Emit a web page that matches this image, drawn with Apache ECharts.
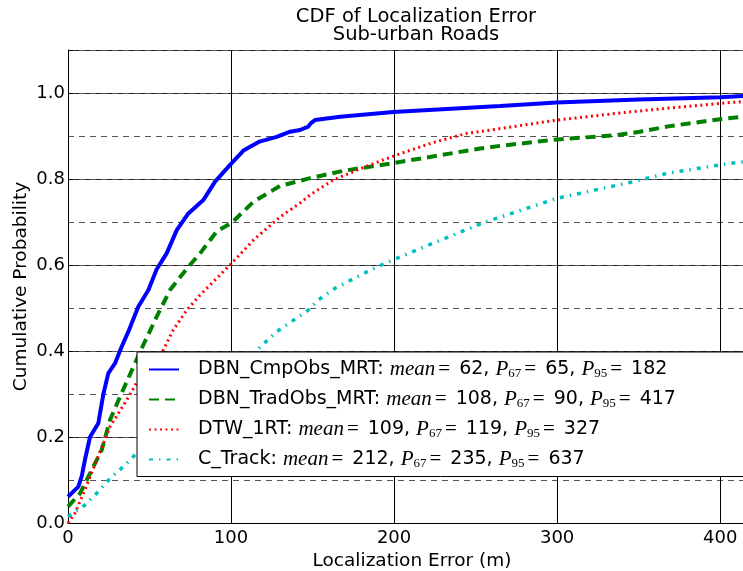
<!DOCTYPE html>
<html>
<head>
<meta charset="utf-8">
<script src="https://cdn.jsdelivr.net/npm/echarts@6/dist/echarts.min.js"></script>
<style>
html,body{margin:0;padding:0;background:#fff;}
#chart{width:743px;height:571px;}
</style>
</head>
<body>
<div id="chart"></div>
<script>
// ---- data ----
const seriesNames = ['DBN_CmpObs_MRT', 'DBN_TradObs_MRT', 'DTW_1RT', 'C_Track'];
const statMean = [62, 108, 109, 212];
const statP67 = [65, 90, 119, 235];
const statP95 = [182, 417, 327, 637];

const cmpX = [0, 4.3, 6.3, 8.5, 10.4, 13.5, 18.6, 21.7, 24.7, 28.8, 32.9, 37, 43.1, 49.3, 54.4, 60.5, 66.7, 73.8, 83, 90.2, 99.4, 107.6, 117.5, 128, 136.2, 142.3, 147.4, 149, 151.5, 166.9, 199.6, 265, 299.8, 350, 400, 414, 421];
const cmpY = [0.061, 0.077, 0.084, 0.11, 0.147, 0.2, 0.232, 0.30, 0.348, 0.371, 0.41, 0.445, 0.503, 0.542, 0.59, 0.627, 0.681, 0.72, 0.751, 0.794, 0.833, 0.866, 0.887, 0.898, 0.91, 0.914, 0.922, 0.93, 0.937, 0.945, 0.956, 0.97, 0.978, 0.985, 0.99, 0.993, 0.994];

const tradX = [0, 7.4, 11.5, 20.7, 25.8, 32.9, 44.2, 54.4, 62.6, 73.8, 81, 91.2, 100.4, 113.7, 130.1, 148.5, 168.9, 199.6, 252.8, 265, 299.8, 336.6, 350.7, 369, 400, 414, 421];
const tradY = [0.038, 0.069, 0.1, 0.17, 0.24, 0.302, 0.398, 0.48, 0.542, 0.596, 0.627, 0.678, 0.698, 0.747, 0.784, 0.802, 0.819, 0.837, 0.871, 0.877, 0.892, 0.902, 0.91, 0.923, 0.939, 0.945, 0.948];

const dtwX = [0, 4.3, 10.4, 17.6, 25.8, 36, 44.2, 56.4, 64.6, 72.8, 81, 100.4, 113.7, 130.1, 142.3, 148.5, 162.8, 183.3, 201.6, 224.1, 244.6, 263, 299.8, 347, 400, 414, 421];
const dtwY = [0.0, 0.023, 0.077, 0.147, 0.224, 0.286, 0.34, 0.387, 0.449, 0.495, 0.53, 0.604, 0.658, 0.712, 0.744, 0.763, 0.798, 0.83, 0.856, 0.885, 0.906, 0.916, 0.937, 0.957, 0.976, 0.98, 0.982];

const ctX = [0, 10.4, 18.6, 25.8, 33.9, 42.1, 60, 80, 100, 114.7, 128, 147.4, 153.6, 163.8, 183.3, 194.5, 213.9, 236.4, 256.8, 299.8, 347, 367.3, 400, 414, 421];
const ctY = [0.015, 0.042, 0.073, 0.104, 0.131, 0.162, 0.22, 0.29, 0.35, 0.398, 0.445, 0.495, 0.519, 0.546, 0.584, 0.604, 0.635, 0.67, 0.701, 0.755, 0.794, 0.813, 0.833, 0.84, 0.845];

const xMin = 0, xMax = 414, xStep = 100;
const yMin = 0, yMax = 1.1, yStep = 0.2, yMinorStep = 0.1;

// ---- build ----
const zip = (xs, ys) => xs.map((x, i) => [x, ys[i]]);
const FONT = 'DejaVu Sans';
const MATH = 'Liberation Serif';

const chart = echarts.init(document.getElementById('chart'), null, {renderer: 'canvas'});

const legendFmt = (name) => {
  const i = seriesNames.indexOf(name);
  return '{h|' + name + ': }{m|mean}{e|=}{t| ' + statMean[i] + ', }{m|P}{s|67}{e|=}{t| ' + statP67[i] +
    ', }{m|P}{s|95}{e|=}{t| ' + statP95[i] + '}';
};

const baseLine = {type: 'line', symbol: 'none', showSymbol: false, smooth: false, animation: false, xAxisIndex: 0, yAxisIndex: 0};

const option = {
  animation: false,
  backgroundColor: '#fff',
  title: {
    text: 'CDF of Localization Error\nSub-urban Roads',
    left: 411, top: 3, textAlign: 'center',
    textStyle: {fontFamily: FONT, fontSize: 19.5, fontWeight: 'normal', color: '#000', lineHeight: 18}
  },
  grid: {left: 68, top: 50, right: 0, bottom: 48, containLabel: false, outerBoundsMode: 'none'},
  xAxis: [{
    type: 'value', min: xMin, max: xMax, interval: xStep,
    name: 'Localization Error (m)', nameLocation: 'middle', nameGap: 24,
    nameTextStyle: {fontFamily: FONT, fontSize: 18.5, color: '#000', padding: [0, 0, 0, 13]},
    axisLine: {show: true, lineStyle: {color: '#000', width: 1}},
    axisTick: {show: true, inside: true, length: 5, lineStyle: {color: '#000'}},
    axisLabel: {fontFamily: FONT, fontSize: 18, color: '#000', margin: 6,
      formatter: v => (v % xStep === 0 ? String(v) : '')},
    splitLine: {show: true, lineStyle: {color: '#000', width: 1, type: 'solid'}}
  }],
  yAxis: [{
    type: 'value', min: yMin, max: yMax, interval: yStep,
    name: 'Cumulative Probability', nameLocation: 'middle', nameGap: 37, nameRotate: 90,
    nameMoveOverlap: false,
    nameTextStyle: {fontFamily: FONT, fontSize: 18.5, color: '#000'},
    axisLine: {show: true, lineStyle: {color: '#000', width: 1}},
    axisTick: {show: true, inside: true, length: 5, lineStyle: {color: '#000'}},
    axisLabel: {fontFamily: FONT, fontSize: 18, color: '#000', margin: 3,
      formatter: v => (Math.abs(v - yMax) < 1e-9 ? '' : v.toFixed(1))},
    splitLine: {show: true, lineStyle: {color: '#222', width: 1, type: 'solid'}}
  }, {
    type: 'value', min: yMin, max: yMax, interval: yMinorStep, position: 'left',
    axisLine: {show: false}, axisTick: {show: false}, axisLabel: {show: false},
    splitLine: {show: true, lineStyle: {color: '#555', width: 1.2, type: [6, 5]}}
  }],
  legend: {
    orient: 'vertical', left: 137, top: 352,
    data: seriesNames,
    itemWidth: 30, itemHeight: 12, itemGap: 8.5,
    padding: [7, 120, 6, 11],
    backgroundColor: '#fff', borderColor: '#000', borderWidth: 1, borderRadius: 0,
    z: 10,
    itemStyle: {opacity: 0, borderWidth: 0},
    formatter: legendFmt,
    textStyle: {
      fontFamily: FONT, fontSize: 19, color: '#000',
      rich: {
        h: {fontFamily: FONT, fontSize: 19, color: '#000', lineHeight: 22, padding: [0, 0, 0, 14]},
        t: {fontFamily: FONT, fontSize: 19, color: '#000', lineHeight: 22},
        m: {fontFamily: MATH, fontStyle: 'italic', fontSize: 21, color: '#000', lineHeight: 22},
        e: {fontFamily: MATH, fontSize: 21, color: '#000', lineHeight: 22, padding: [0, 3, 0, 3]},
        s: {fontFamily: MATH, fontSize: 13, color: '#000', lineHeight: 12, verticalAlign: 'bottom'}
      }
    }
  },
  series: [
    Object.assign({}, baseLine, {name: seriesNames[0], data: zip(cmpX, cmpY), z: 2,
      lineStyle: {color: '#0000ff', width: 4, type: 'solid'}, itemStyle: {color: '#0000ff'}}),
    Object.assign({}, baseLine, {name: seriesNames[1], data: zip(tradX, tradY), z: 3,
      lineStyle: {color: '#008000', width: 4, type: [10, 6]}, itemStyle: {color: '#008000'}}),
    Object.assign({}, baseLine, {name: seriesNames[2], data: zip(dtwX, dtwY), z: 4,
      lineStyle: {color: '#ff0000', width: 3, type: [2, 3.5]}, itemStyle: {color: '#ff0000'}}),
    Object.assign({}, baseLine, {name: seriesNames[3], data: zip(ctX, ctY), z: 5,
      lineStyle: {color: '#00bfbf', width: 3.5, type: [4, 6, 1.5, 6]}, itemStyle: {color: '#00bfbf'}})
  ]
};
chart.setOption(option);
</script>
</body>
</html>
